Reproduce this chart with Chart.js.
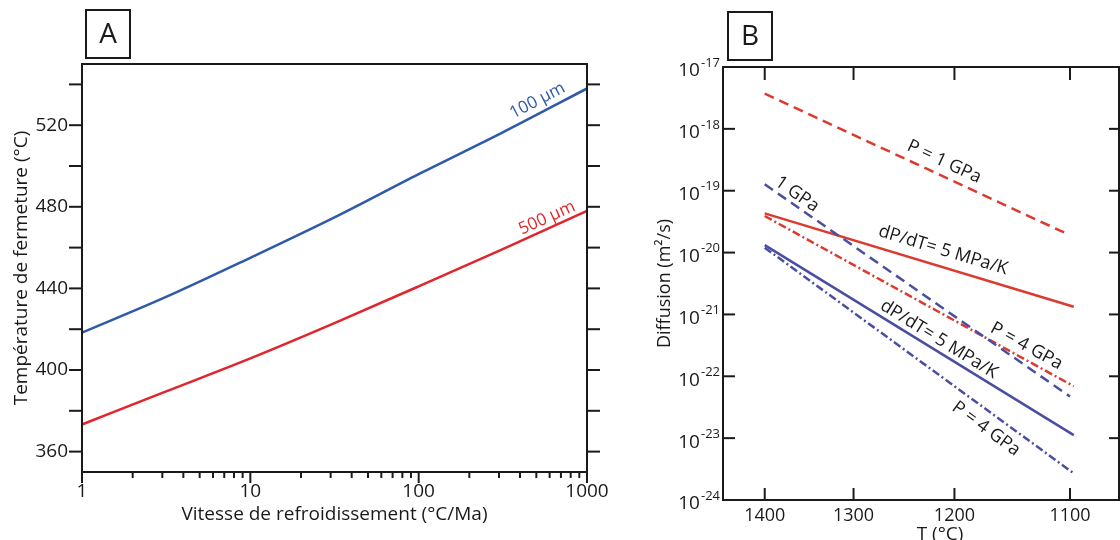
<!DOCTYPE html>
<html lang="fr">
<head>
<meta charset="utf-8">
<title>Température de fermeture et diffusion</title>
<script src="https://cdn.jsdelivr.net/npm/chart.js@4.4.1/dist/chart.umd.min.js"></script>
<style>
  body { margin: 0; background: #fff; }
  #wrap { position: relative; width: 1120px; height: 540px; overflow: hidden; }
  canvas { position: absolute; top: 0; }
  #chartA { left: 0; }
  #chartB { left: 600px; }
</style>
</head>
<body>
<div id="wrap">
  <canvas id="chartA" width="620" height="540"></canvas>
  <canvas id="chartB" width="520" height="540"></canvas>
</div>
<script>
/* Panneau A : température de fermeture selon la vitesse de refroidissement */
const vitesses = [1, 3.16, 10, 31.6, 100, 316, 1000];          // °C/Ma
const tc100um = [418.3, 435.8, 455, 474.8, 496, 516.5, 538];   // °C
const tc500um = [373.3, 389.5, 405.7, 423, 441, 459.3, 478];   // °C
const etiqXA = [1, 10, 100, 1000];
const etiqYA = [360, 400, 440, 480, 520];
const graduYA = [360, 380, 400, 420, 440, 460, 480, 500, 520, 540];

/* Panneau B : coefficients de diffusion (droites d'Arrhenius), T en °C, D en m²/s */
const etiqTB = [1400, 1300, 1200, 1100];
const expDB = [-24, -23, -22, -21, -20, -19, -18, -17];
const bornesTB = [1451.5, 1061.6];
const tRougeP1 = [1400, 1101];   const dRougeP1 = [3.7e-18, 1.95e-20];   // P = 1 GPa
const tBleuP1 = [1400, 1100];    const dBleuP1 = [1.27e-19, 4.7e-23];    // 1 GPa
const tRougeGrad = [1400, 1097]; const dRougeGrad = [4.3e-20, 1.33e-21]; // dP/dT = 5 MPa/K
const tRougeP4 = [1400, 1097];   const dRougeP4 = [3.9e-20, 6.9e-23];    // P = 4 GPa
const tBleuGrad = [1400, 1097];  const dBleuGrad = [1.32e-20, 1.12e-23];
const tBleuP4 = [1400, 1097];    const dBleuP4 = [1.2e-20, 2.7e-24];

const INK = '#1a1a1a';
const BLEU_A = '#2e5aa7', ROUGE_A = '#e0262c';
const BLEU_B = '#4a4ea0', ROUGE_B = '#dc3a2f';
const POLICE = '"Open Sans", "DejaVu Sans", sans-serif';

// axe des x du panneau B : 10^4 / T(K)
const invT = (t) => 1e4 / (t + 273.15);
const points = (xs, ys, fx) => xs.map((x, i) => ({ x: fx ? fx(x) : x, y: ys[i] }));
const sansGrille = { display: false, drawTicks: false };

/* Dessine le cadre, les graduations, la lettre du panneau et les étiquettes des courbes */
function cadre(cfg) {
    return {
        id: 'cadre',
        afterDraw(chart) {
            const ctx = chart.ctx, a = chart.chartArea;
            ctx.save();
            ctx.strokeStyle = INK;
            ctx.lineWidth = 2;
            ctx.strokeRect(a.left, a.top, a.right - a.left, a.bottom - a.top);

            // graduations (vers l'extérieur ou l'intérieur)
            cfg.marques.forEach((m) => {
                const s = chart.scales[m.axe];
                const sens = m.dedans ? -1 : 1;
                m.valeurs.forEach((v) => {
                    const p = s.getPixelForValue(v);
                    const l = sens * (m.majeures && m.majeures.includes(v) ? m.longMaj : m.long);
                    ctx.beginPath();
                    if (m.cote === 'left') { ctx.moveTo(a.left, p); ctx.lineTo(a.left - l, p); }
                    else if (m.cote === 'right') { ctx.moveTo(a.right, p); ctx.lineTo(a.right + l, p); }
                    else if (m.cote === 'bottom') { ctx.moveTo(p, a.bottom); ctx.lineTo(p, a.bottom + l); }
                    else { ctx.moveTo(p, a.top); ctx.lineTo(p, a.top - l); }
                    ctx.stroke();
                });
            });

            // case de la lettre
            const b = cfg.lettre;
            ctx.strokeRect(b.x, b.y, b.w, b.h);
            ctx.fillStyle = INK;
            ctx.font = '28px ' + POLICE;
            ctx.textAlign = 'center';
            ctx.textBaseline = 'middle';
            ctx.fillText(b.texte, b.x + b.w / 2, b.y + b.h / 2 + 1);

            // étiquettes le long des courbes
            cfg.notes.forEach((n) => {
                const pts = chart.getDatasetMeta(n.serie).data;
                const x = chart.scales.x.getPixelForValue(n.x);
                let i = 0;
                while (i < pts.length - 2 && pts[i + 1].x < x) i++;
                const p0 = pts[i], p1 = pts[i + 1];
                const y = p0.y + (x - p0.x) / (p1.x - p0.x) * (p1.y - p0.y);
                ctx.save();
                ctx.translate(x, y);
                ctx.rotate(Math.atan2(p1.y - p0.y, p1.x - p0.x));
                ctx.fillStyle = n.couleur;
                ctx.font = n.taille + 'px ' + POLICE;
                ctx.textAlign = 'center';
                ctx.textBaseline = 'middle';
                ctx.fillText(n.texte, 0, n.decal);
                ctx.restore();
            });

            if (cfg.extra) cfg.extra(chart, ctx);
            ctx.restore();
        },
    };
}

/* ---------- Panneau A ---------- */
const graduXA = [1, 10, 100].flatMap((d) => [1, 2, 3, 4, 5, 6, 7, 8, 9].map((k) => k * d)).concat([1000]);

new Chart(document.getElementById('chartA'), {
    type: 'line',
    data: {
        datasets: [
            { data: points(vitesses, tc100um), borderColor: BLEU_A, borderWidth: 2.5, pointRadius: 0, cubicInterpolationMode: 'monotone' },
            { data: points(vitesses, tc500um), borderColor: ROUGE_A, borderWidth: 2.5, pointRadius: 0, cubicInterpolationMode: 'monotone' },
        ],
    },
    options: {
        responsive: false,
        animation: false,
        layout: { padding: { top: 64, right: 33, left: 0, bottom: 0 } },
        plugins: { legend: { display: false }, tooltip: { enabled: false } },
        scales: {
            x: {
                type: 'logarithmic', min: 1, max: 1000,
                grid: sansGrille, border: { display: false },
                afterBuildTicks: (s) => { s.ticks = graduXA.map((v) => ({ value: v })); },
                afterFit: (s) => { s.height = 68; s.paddingLeft = 0; s.paddingRight = 0; },
                ticks: {
                    autoSkip: false, maxRotation: 0, padding: 8, color: INK,
                    font: { family: POLICE, size: 19 },
                    callback: (v) => (etiqXA.includes(v) ? String(v) : ''),
                },
                title: {
                    display: true, text: 'Vitesse de refroidissement (°C/Ma)', color: INK,
                    font: { family: POLICE, size: 19 }, padding: { top: 0, bottom: 14 },
                },
            },
            y: {
                min: 350, max: 550,
                grid: sansGrille, border: { display: false },
                afterBuildTicks: (s) => { s.ticks = graduYA.map((v) => ({ value: v })); },
                afterFit: (s) => { s.width = 82; },
                ticks: {
                    autoSkip: false, padding: 14, color: INK,
                    font: { family: POLICE, size: 19 },
                    callback: (v) => (etiqYA.includes(v) ? String(v) : ''),
                },
                title: {
                    display: true, text: 'Température de fermeture (°C)', color: INK,
                    font: { family: POLICE, size: 19 }, padding: { top: 10, bottom: 0 },
                },
            },
        },
    },
    plugins: [cadre({
        marques: [
            { axe: 'y', cote: 'left', valeurs: graduYA, long: 13 },
            { axe: 'y', cote: 'right', valeurs: graduYA, long: 13 },
            { axe: 'x', cote: 'bottom', valeurs: graduXA, long: 6, longMaj: 11, majeures: etiqXA },
        ],
        lettre: { texte: 'A', x: 86, y: 10, w: 44, h: 48 },
        notes: [
            { serie: 0, x: 548, decal: -12, texte: '100 µm', couleur: BLEU_A, taille: 17 },
            { serie: 1, x: 612, decal: -10, texte: '500 µm', couleur: ROUGE_A, taille: 17 },
        ],
    })],
});

/* ---------- Panneau B ---------- */
const tiret = [10, 6], tiretPoint = [8, 3, 2, 3];
const valeursDB = expDB.map((e) => Math.pow(10, e));

new Chart(document.getElementById('chartB'), {
    type: 'line',
    data: {
        datasets: [
            { data: points(tRougeP1, dRougeP1, invT), borderColor: ROUGE_B, borderDash: tiret },
            { data: points(tBleuP1, dBleuP1, invT), borderColor: BLEU_B, borderDash: tiret },
            { data: points(tRougeGrad, dRougeGrad, invT), borderColor: ROUGE_B },
            { data: points(tRougeP4, dRougeP4, invT), borderColor: ROUGE_B, borderDash: tiretPoint },
            { data: points(tBleuGrad, dBleuGrad, invT), borderColor: BLEU_B },
            { data: points(tBleuP4, dBleuP4, invT), borderColor: BLEU_B, borderDash: tiretPoint },
        ].map((d) => Object.assign(d, { borderWidth: 2.5, pointRadius: 0 })),
    },
    options: {
        responsive: false,
        animation: false,
        layout: { padding: { top: 67, right: 1, left: 0, bottom: 0 } },
        plugins: { legend: { display: false }, tooltip: { enabled: false } },
        scales: {
            x: {
                type: 'linear', min: invT(bornesTB[0]), max: invT(bornesTB[1]),
                grid: sansGrille, border: { display: false },
                afterBuildTicks: (s) => { s.ticks = etiqTB.map((t) => ({ value: invT(t) })); },
                afterFit: (s) => { s.height = 40; s.paddingLeft = 0; s.paddingRight = 0; },
                ticks: {
                    autoSkip: false, maxRotation: 0, padding: 5, color: INK,
                    font: { family: POLICE, size: 18 },
                    callback: (v) => String(Math.round(1e4 / v - 273.15)),
                },
            },
            y: {
                type: 'logarithmic', min: 1e-24, max: 1e-17,
                grid: sansGrille, border: { display: false },
                afterBuildTicks: (s) => { s.ticks = valeursDB.map((v) => ({ value: v })); },
                afterFit: (s) => { s.width = 123; },
                ticks: { display: false },
                title: {
                    display: true, text: 'Diffusion (m²/s)', color: INK,
                    font: { family: POLICE, size: 18 }, padding: { top: 54, bottom: 0 },
                },
            },
        },
    },
    plugins: [cadre({
        marques: [
            { axe: 'y', cote: 'left', valeurs: valeursDB, long: 12, dedans: true },
            { axe: 'y', cote: 'right', valeurs: valeursDB, long: 10, dedans: true },
            { axe: 'x', cote: 'bottom', valeurs: etiqTB.map(invT), long: 12, dedans: true },
            { axe: 'x', cote: 'top', valeurs: etiqTB.map(invT), long: 13, dedans: true },
        ],
        lettre: { texte: 'B', x: 128, y: 12, w: 44, h: 48 },
        notes: [
            { serie: 0, x: invT(1215), decal: -13.6, texte: 'P = 1 GPa', couleur: INK, taille: 18 },
            { serie: 1, x: invT(1369), decal: -10.3, texte: '1 GPa', couleur: INK, taille: 18 },
            { serie: 2, x: invT(1215), decal: -16.3, texte: 'dP/dT= 5 MPa/K', couleur: INK, taille: 18 },
            { serie: 3, x: invT(1141), decal: -12.3, texte: 'P = 4 GPa', couleur: INK, taille: 18 },
            { serie: 4, x: invT(1220), decal: -11, texte: 'dP/dT= 5 MPa/K', couleur: INK, taille: 18 },
            { serie: 5, x: invT(1163), decal: 15.7, texte: 'P = 4 GPa', couleur: INK, taille: 18 },
        ],
        // étiquettes en puissances de dix et titre de l'axe des x
        extra: (chart, ctx) => {
            const a = chart.chartArea, sy = chart.scales.y;
            ctx.fillStyle = INK;
            ctx.textAlign = 'right';
            ctx.textBaseline = 'middle';
            expDB.forEach((e) => {
                const y = sy.getPixelForValue(Math.pow(10, e));
                const sup = String(e);
                ctx.font = '13px ' + POLICE;
                const w = ctx.measureText(sup).width;
                ctx.fillText(sup, a.left - 3, y - 4);
                ctx.font = '19px ' + POLICE;
                ctx.fillText('10', a.left - 4 - w, y + 4);
            });
            ctx.font = '19px ' + POLICE;
            ctx.textAlign = 'center';
            ctx.textBaseline = 'alphabetic';
            ctx.fillText('T (°C)', 340, 540);
        },
    })],
});
</script>
</body>
</html>
